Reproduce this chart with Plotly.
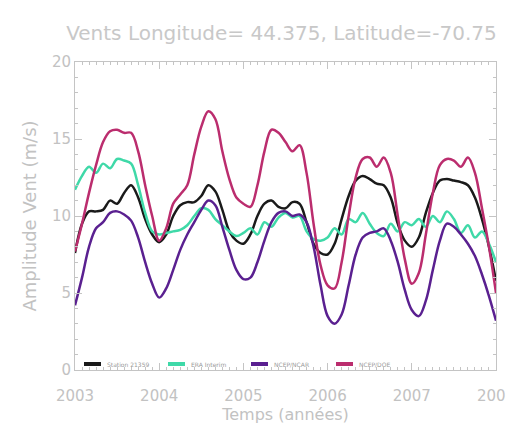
import plotly.graph_objects as go

years = [2003 + i / 12 for i in range(61)]

station = [7.6, 9.5, 10.3, 10.3, 10.4, 11.0, 10.8, 11.5, 12.0, 11.2, 9.8, 8.8,
           8.3, 8.8, 10.0, 10.7, 10.9, 10.9, 11.3, 12.0, 11.6, 10.4, 9.0, 8.4,
           8.2, 8.8, 10.0, 10.8, 11.0, 10.6, 10.5, 10.9, 10.8, 9.6, 8.2, 7.6,
           7.5, 8.2, 9.8, 11.3, 12.3, 12.6, 12.4, 12.1, 12.0, 11.2, 9.5, 8.4,
           8.0, 8.6, 10.2, 11.5, 12.3, 12.4, 12.3, 12.2, 12.0, 11.2, 9.8, 8.0,
           5.8]

era = [11.7, 12.6, 13.2, 12.8, 13.4, 13.1, 13.7, 13.6, 13.4, 12.0, 10.2, 9.0,
       8.8, 8.9, 9.0, 9.1, 9.4, 10.0, 10.5, 10.4, 9.8, 9.4, 9.0, 8.7,
       8.9, 9.2, 8.8, 9.6, 9.3, 9.9, 10.2, 9.9, 10.0, 9.0, 8.5, 8.4,
       8.6, 9.2, 8.8, 9.8, 9.6, 10.2, 9.5, 8.9, 8.7, 9.5, 9.0, 9.6,
       9.4, 9.8, 9.3, 10.0, 9.6, 10.3, 9.8, 8.9, 9.4, 8.6, 9.0, 8.2,
       7.0]

ncar = [4.2, 6.0, 8.0, 9.2, 9.6, 10.2, 10.3, 10.1, 9.7, 8.6, 7.0, 5.6,
        4.7, 5.3, 6.5, 7.8, 8.8, 9.6, 10.4, 11.0, 10.7, 9.3, 7.8, 6.5,
        5.9, 6.0, 7.0, 8.4, 9.6, 10.2, 10.3, 10.0, 10.1, 9.6, 8.0, 5.5,
        3.5, 3.0, 3.6, 5.5, 7.5, 8.6, 8.9, 9.0, 9.2, 8.4, 7.0, 5.2,
        3.9, 3.5, 4.5, 6.5, 8.4, 9.5, 9.3, 8.8, 8.2, 7.4, 6.2, 4.8,
        3.2]

doe = [7.7, 9.5, 11.5, 13.3, 14.8, 15.5, 15.6, 15.4, 15.4, 14.2, 12.0, 10.0,
       8.4, 9.2, 10.8, 11.4, 12.0, 14.0, 15.8, 16.8, 16.3, 14.2, 12.4, 11.2,
       10.8, 10.6, 12.0, 14.2, 15.6, 15.4, 14.8, 14.2, 14.6, 12.8, 9.5, 6.8,
       5.5, 5.3, 7.0, 10.0, 12.5, 13.7, 13.8, 13.2, 13.8, 12.8, 10.0, 7.2,
       5.6, 6.3, 8.8, 11.5, 13.3, 13.7, 13.6, 13.2, 13.8, 12.8, 10.5, 8.0,
       5.0]

series_names = ["Station 21359", "ERA Interim", "NCEP/NCAR", "NCEP/DOE"]
series_values = [station, era, ncar, doe]
series_colors = ["#1a1a1a", "#3fd9a8", "#5a2090", "#bb2d6e"]

year_ticks = [2003, 2004, 2005, 2006, 2007, 2008]
y_ticks = [0, 5, 10, 15, 20]

W, H = 514, 428
ML, MR, MT, MB = 67, 26, 54, 66
PW, PH = W - ML - MR, H - MT - MB

fig = go.Figure()
for name, vals, col in zip(series_names, series_values, series_colors):
    fig.add_trace(go.Scatter(x=years, y=vals, mode="lines", name=name,
                             line=dict(color=col, width=2.5, shape="spline")))

# manual compact legend (short line samples, tiny text), as in the original
legend_x0 = [76, 160, 243, 328]
legend_y = 356
for name, col, px in zip(series_names, series_colors, legend_x0):
    xs0 = (px - ML) / PW
    xs1 = (px + 17 - ML) / PW
    yy = (H - MB - legend_y) / PH
    fig.add_shape(type="line", xref="paper", yref="paper", x0=xs0, x1=xs1, y0=yy, y1=yy,
                  line=dict(color=col, width=4))
    fig.add_annotation(xref="paper", yref="paper", x=(px + 21 - ML) / PW, y=yy,
                       xanchor="left", yanchor="middle", text=name, showarrow=False,
                       font=dict(family="DejaVu Sans", size=6, color="#9a9a9a"))

grey = "#c4c4c4"
txt = "#c2c2c2"
axis_common = dict(showline=True, linecolor=grey, linewidth=1, mirror="ticks",
                   ticks="inside", tickcolor=grey, ticklen=7, showgrid=False,
                   zeroline=False, automargin=False, ticklabeloverflow="allow",
                   tickfont=dict(family="DejaVu Sans", size=15, color=txt))

fig.update_layout(
    width=W, height=H,
    margin=dict(l=ML, r=MR, t=MT, b=MB),
    paper_bgcolor="white", plot_bgcolor="white",
    title=dict(text="Vents Longitude= 44.375, Latitude=-70.75", x=0.532, xanchor="center",
               y=1 - 25 / H, yanchor="middle",
               font=dict(family="DejaVu Sans", size=20, color="#c8c8c8")),
    xaxis=dict(range=[2003, 2008], tickvals=year_ticks, ticktext=[str(v) for v in year_ticks],
               ticklabelstandoff=12,
               title=dict(text="Temps (années)", font=dict(family="DejaVu Sans", size=16, color=txt),
                          standoff=4),
               minor=dict(ticks="inside", dtick=1 / 12, ticklen=3, tickcolor=grey),
               **axis_common),
    yaxis=dict(range=[0, 20], tickvals=y_ticks,
               title=dict(text="Amplitude Vent (m/s)", font=dict(family="DejaVu Sans", size=18, color=txt),
                          standoff=10),
               minor=dict(ticks="inside", dtick=1, ticklen=3, tickcolor=grey),
               **axis_common),
    showlegend=False,
)

fig.write_html("out.html")
